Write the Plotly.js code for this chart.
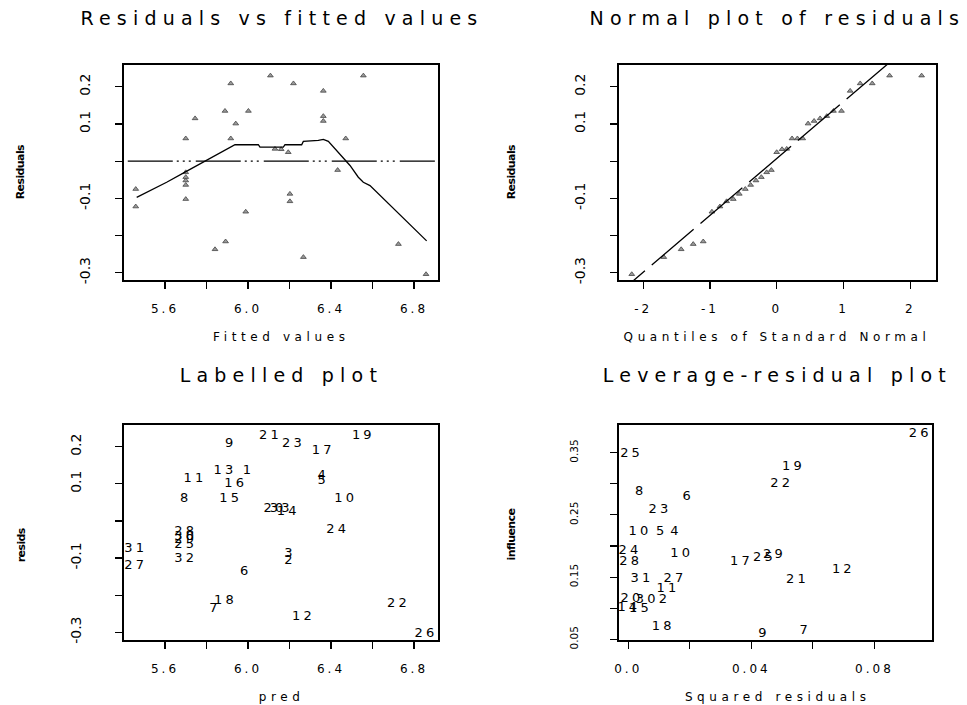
<!DOCTYPE html>
<html>
<head>
<meta charset="utf-8">
<script src="https://cdn.plot.ly/plotly-3.0.1.min.js"></script>
<style>
  html, body { margin: 0; padding: 0; background: #fff; }
  #chart { width: 967px; height: 705px; }
  .annotation[data-index="0"] text, .annotation[data-index="1"] text,
  .annotation[data-index="2"] text, .annotation[data-index="3"] text { letter-spacing: 6.2px; }
  .annotation[data-index="4"] text, .annotation[data-index="5"] text,
  .annotation[data-index="6"] text, .annotation[data-index="7"] text { letter-spacing: 4.6px; }
  .annotation[data-index="8"] text, .annotation[data-index="9"] text,
  .annotation[data-index="10"] text, .annotation[data-index="11"] text { letter-spacing: -0.6px; }
  .xtick text, .x2tick text, .x3tick text, .x4tick text { letter-spacing: 3.0px; }
  .textpoint text { letter-spacing: 3.2px; }
</style>
</head>
<body>
<div id="chart"></div>
<script>
// ---- Data ----
const fitted = [5.459, 5.459, 5.700, 5.700, 5.700, 5.700, 5.700, 5.700, 5.745, 5.841, 5.889,
  5.892, 5.917, 5.917, 5.941, 5.989, 6.002, 6.108, 6.130, 6.160, 6.194, 6.202, 6.202, 6.219,
  6.267, 6.363, 6.363, 6.363, 6.432, 6.471, 6.556, 6.725, 6.858];
const resid = [-0.075, -0.122, 0.061, -0.030, -0.043, -0.052, -0.064, -0.102, 0.115, -0.237, 0.135,
  -0.216, 0.209, 0.061, 0.101, -0.136, 0.135, 0.230, 0.033, 0.032, 0.024, -0.088, -0.108, 0.209,
  -0.258, 0.189, 0.121, 0.108, -0.024, 0.061, 0.230, -0.223, -0.304];
const obsLabels = ["31", "27", "8", "28", "30", "29", "25", "32", "11", "7", "13",
  "18", "9", "15", "16", "6", "1", "21", "20", "33", "14", "3", "2", "23",
  "12", "17", "4", "5", "24", "10", "19", "22", "26"];

// smooth line through residuals vs fitted
const smoothX = [5.4635, 5.608, 5.6964, 5.7687, 5.8008, 5.8329, 5.8811, 5.9373, 6.0498, 6.0578,
  6.1703, 6.1783, 6.2586, 6.2667, 6.3390, 6.3631, 6.3872, 6.4916, 6.5317, 6.5558, 6.5880, 6.8610];
const smoothY = [-0.0972, -0.0567, -0.0296, -0.0071, 0.0019, 0.0127, 0.0289, 0.0442, 0.0442, 0.0379,
  0.0379, 0.0442, 0.0442, 0.0532, 0.0559, 0.0586, 0.0532, -0.0116, -0.0432, -0.0567, -0.0657, -0.2143];

// normal plot
const qqTheo = [-2.17, -1.69, -1.43, -1.25, -1.10, -0.97, -0.85, -0.75, -0.65, -0.56, -0.47,
  -0.39, -0.31, -0.23, -0.15, -0.08, 0, 0.08, 0.15, 0.23, 0.31, 0.39, 0.47, 0.56, 0.65, 0.75,
  0.85, 0.97, 1.10, 1.25, 1.43, 1.69, 2.17];
const qqResid = [-0.304, -0.258, -0.237, -0.223, -0.216, -0.136, -0.122, -0.108, -0.102, -0.088,
  -0.075, -0.064, -0.052, -0.043, -0.030, -0.024, 0.024, 0.032, 0.033, 0.061, 0.061, 0.061, 0.101,
  0.108, 0.115, 0.121, 0.135, 0.135, 0.189, 0.209, 0.209, 0.230, 0.230];
const qqIntercept = 0.007;
const qqSlope = 0.153;
const qqLineX = [-2.6, 2.6];

// leverage-residual plot
const levSqRes = [0.0949, 0.0011, 0.0537, 0.0499, 0.0041, 0.0195, 0.0103, 0.0038, 0.0109, 0.0155,
  0.0006, 0.0008, 0.0174, 0.0368, 0.0443, 0.0475, 0.0699, 0.0550, 0.0045, 0.0152, 0.0129,
  0.0012, 0.0062, 0.0118, 0.0002, 0.0040, 0.0114, 0.0441, 0.0575];
const levInfl = [0.380, 0.349, 0.3275, 0.2997, 0.2873, 0.2793, 0.259, 0.223, 0.223, 0.223,
  0.192, 0.1748, 0.1871, 0.175, 0.1805, 0.186, 0.1614, 0.1453, 0.147, 0.147, 0.1309,
  0.1145, 0.1135, 0.1132, 0.1005, 0.0985, 0.0706, 0.0585, 0.0633];
const levLabels = ["26", "25", "19", "22", "8", "6", "23", "10", "5", "4",
  "24", "28", "10", "17", "25", "29", "12", "21", "31", "27", "11",
  "20", "30", "2", "14", "15", "18", "9", "7"];

// tick labels
const fitTickVals = [5.6, 5.8, 6.0, 6.2, 6.4, 6.6, 6.8];
const fitTickText = ["5.6", "", "6.0", "", "6.4", "", "6.8"];
const resTickVals = [-0.3, -0.2, -0.1, 0, 0.1, 0.2];
const resTickText = ["-0.3", "", "-0.1", "", "0.1", "0.2"];
const qTickVals = [-2, -1, 0, 1, 2];
const qTickText = ["-2", "-1", "0", "1", "2"];
const sqTickVals = [0, 0.02, 0.04, 0.06, 0.08];
const sqTickText = ["0.0", "", "0.04", "", "0.08"];
const inflTickVals = [0.05, 0.10, 0.15, 0.20, 0.25, 0.30, 0.35];
const inflTickText = ["0.05", "", "0.15", "", "0.25", "", "0.35"];

// ---- Drawing ----
const W = 967, H = 705;
const FONT = 'DejaVu Sans, Liberation Sans, sans-serif';
const px = v => v / W;
const py = v => 1 - v / H;

const marker = { symbol: 'triangle-up', size: 5, color: '#9a9a9a', line: { width: 0.8, color: '#444' } };

const traces = [
  { type: 'scatter', mode: 'markers', x: fitted, y: resid, xaxis: 'x', yaxis: 'y', marker: marker },
  { type: 'scatter', mode: 'lines', x: smoothX, y: smoothY, xaxis: 'x', yaxis: 'y', line: { color: '#000', width: 1.3 } },
  { type: 'scatter', mode: 'markers', x: qqTheo, y: qqResid, xaxis: 'x2', yaxis: 'y2', marker: marker },
  { type: 'scatter', mode: 'lines', x: qqLineX, y: qqLineX.map(v => qqIntercept + qqSlope * v),
    xaxis: 'x2', yaxis: 'y2', line: { color: '#000', width: 1.3, dash: '55px,9px' } },
  { type: 'scatter', mode: 'text', x: fitted, y: resid, text: obsLabels, xaxis: 'x3', yaxis: 'y3',
    textposition: 'middle center', textfont: { family: FONT, size: 13, color: '#000' } },
  { type: 'scatter', mode: 'text', x: levSqRes, y: levInfl, text: levLabels, xaxis: 'x4', yaxis: 'y4',
    textposition: 'middle center', textfont: { family: FONT, size: 13, color: '#000' } }
];

function axis(dom, range, tv, tt, isY, extra) {
  return Object.assign({
    domain: dom, range: range, tickmode: 'array', tickvals: tv, ticktext: tt,
    showline: true, linecolor: '#000', linewidth: 1.6, mirror: true,
    ticks: 'outside', ticklen: 7, tickwidth: 1.2, tickcolor: '#000',
    showgrid: false, zeroline: false, fixedrange: true,
    tickangle: isY ? -90 : 0,
    ticklabelstandoff: isY ? 20 : 10,
    tickfont: { family: FONT, size: isY ? 14 : 12, color: '#000' }
  }, extra || {});
}

const xDomL = [px(124), px(438)];
const xDomR = [px(619), px(936)];
const xDomR4 = [px(619), px(932)];
const yDomT = [py(280), py(65)];
const yDomB = [py(640), py(425)];

function ann(text, x, y, size, angle, bold) {
  return { text: bold ? '<b>' + text + '</b>' : text, x: px(x), y: py(y), xref: 'paper', yref: 'paper', showarrow: false,
    xanchor: 'center', yanchor: 'middle', textangle: angle || 0,
    font: { family: FONT, size: size, color: '#000' } };
}

const layout = {
  width: W, height: H, margin: { l: 0, r: 0, t: 0, b: 0 },
  paper_bgcolor: '#fff', plot_bgcolor: '#fff', showlegend: false,
  xaxis: axis(xDomL, [5.4024, 6.9157], fitTickVals, fitTickText, false, { anchor: 'y' }),
  yaxis: axis(yDomT, [-0.3195, 0.2586], resTickVals, resTickText, true, { anchor: 'x' }),
  xaxis2: axis(xDomR, [-2.361, 2.385], qTickVals, qTickText, false, { anchor: 'y2' }),
  yaxis2: axis(yDomT, [-0.3195, 0.2586], resTickVals, resTickText, true, { anchor: 'x2' }),
  xaxis3: axis(xDomL, [5.4024, 6.9157], fitTickVals, fitTickText, false, { anchor: 'y3' }),
  yaxis3: axis(yDomB, [-0.321, 0.2586], resTickVals, resTickText, true, { anchor: 'x3', ticklabelstandoff: 29 }),
  xaxis4: axis(xDomR4, [-0.0030, 0.0987], sqTickVals, sqTickText, false, { anchor: 'y4' }),
  yaxis4: axis(yDomB, [0.0489, 0.3945], inflTickVals, inflTickText, true,
    { anchor: 'x4', ticklabelstandoff: 28, tickfont: { family: FONT, size: 10.5, color: '#000' } }),
  shapes: [
    { type: 'line', xref: 'x domain', yref: 'y', x0: 0.012, x1: 0.99, y0: 0, y1: 0,
      line: { color: '#000', width: 1.3, dash: '45px,4px,2px,4px,2px,4px,2px,5px' } }
  ],
  annotations: [
    ann('Residuals vs fitted values', 282, 18, 19),
    ann('Normal plot of residuals', 777, 18, 19),
    ann('Labelled plot', 281, 375, 19),
    ann('Leverage-residual plot', 777, 375, 19),
    ann('Fitted values', 281, 337, 12),
    ann('Quantiles of Standard Normal', 777, 337, 12),
    ann('pred', 281, 697, 12),
    ann('Squared residuals', 777, 697, 12),
    ann('Residuals', 20, 172, 11, -90, true),
    ann('Residuals', 511, 172, 11, -90, true),
    ann('resids', 21, 545, 11, -90, true),
    ann('influence', 511, 535, 11, -90, true)
  ]
};

Plotly.newPlot('chart', traces, layout, { staticPlot: true, displayModeBar: false });
</script>
</body>
</html>
